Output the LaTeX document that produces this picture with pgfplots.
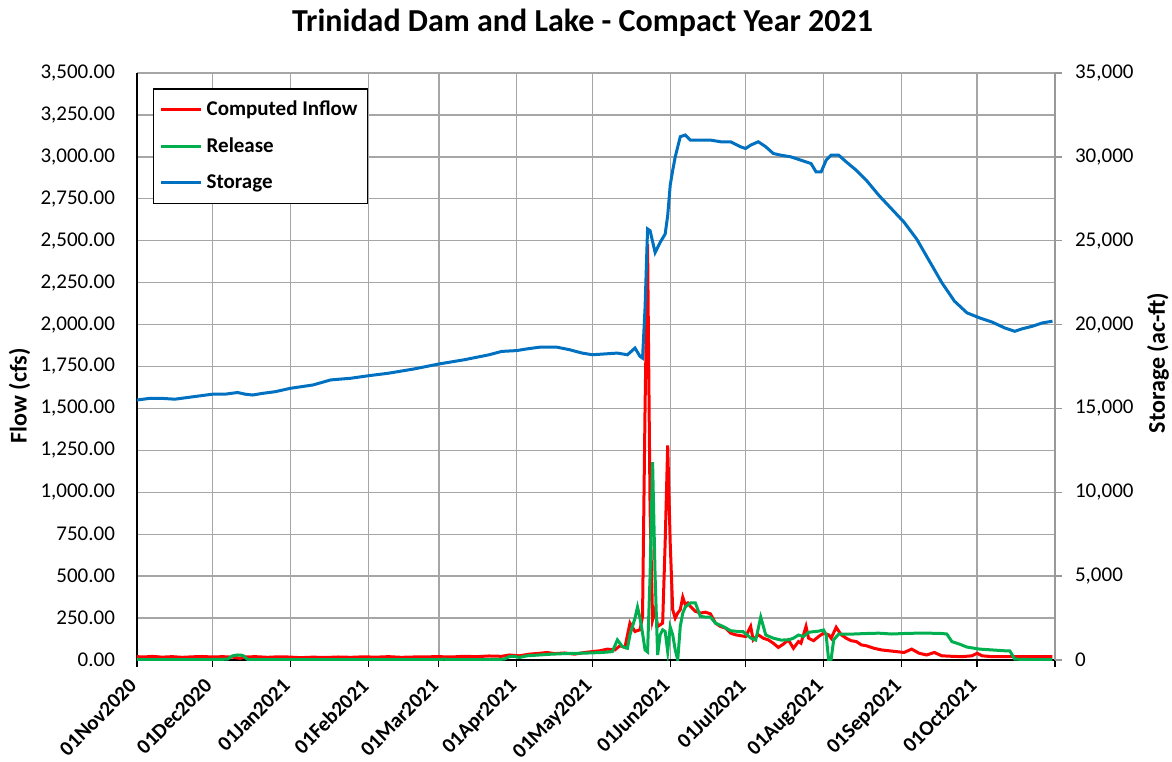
\documentclass[border=0pt]{standalone}
\usepackage{fontspec}
\setmainfont{Carlito}
\usepackage{pgfplots}
\usepackage{pgfplotstable}
\pgfplotsset{compat=1.18}
\definecolor{cin}{HTML}{FF0000}
\definecolor{crel}{HTML}{00B050}
\definecolor{csto}{HTML}{0070C0}
\definecolor{cgrid}{HTML}{A6A6A6}
\definecolor{caxis}{HTML}{999999}

% day = days since 01Nov2020
\pgfplotstableread{
day flow
0 20
3 18
6 22
10 17
14 20
18 16
22 19
26 21
30 18
34 20
38 17
41 10
43 18
47 20
52 16
56 19
60 18
65 14
70 17
75 15
80 18
85 16
90 19
95 17
100 20
105 16
110 18
115 19
120 20
125 18
130 22
135 20
140 24
145 22
148 30
152 25
156 35
160 40
163 45
166 38
170 42
174 35
178 45
181 50
184 55
187 65
190 60
192 85
194 75
196 220
198 170
200 180
201 260
202 1500
203 2480
204 900
205 240
206 300
207 200
208 210
209 220
210 700
211 1280
212 700
213 300
214 250
215 280
216 300
217 375
218 330
219 340
220 320
222 290
224 280
226 285
228 275
230 220
232 200
234 190
236 160
238 150
240 145
242 140
244 200
245 120
247 150
249 130
251 120
253 100
255 75
257 95
259 120
261 70
263 110
264 100
266 200
267 130
269 115
271 140
273 160
275 150
276 130
278 195
280 150
282 130
284 115
286 110
288 90
290 85
293 70
296 60
299 55
302 50
305 45
308 65
311 40
314 30
317 45
320 25
324 22
328 20
332 25
334 40
336 25
340 20
345 20
350 20
355 20
360 20
364 20
}\inflow

\pgfplotstableread{
day flow
0 3
10 3
20 2
30 3
36 5
38 25
40 30
42 28
44 3
60 2
90 2
120 2
122 5
124 2
140 2
146 5
148 20
150 22
152 15
155 25
160 30
165 35
170 38
175 40
180 42
185 45
189 50
191 120
193 80
195 70
196 150
198 250
199 316
200 250
201 160
202 60
203 48
204 500
205 1180
206 500
207 30
208 150
209 180
210 170
211 50
212 197
213 150
214 60
215 0
216 200
217 280
218 316
220 340
222 340
224 260
226 256
228 256
230 220
233 200
236 175
239 170
241 169
244 131
246 119
248 256
250 149
253 130
256 119
259 120
261 130
263 149
265 140
267 165
269 169
271 172
273 179
274 150
275 0
276 5
277 120
279 155
285 155
290 158
295 160
300 155
305 158
310 160
315 160
320 158
322 155
324 110
327 95
330 77
335 65
340 60
345 55
347 55
349 5
355 3
364 3
}\release

\pgfplotstableread{
day sto
0 15500
5 15600
10 15600
15 15550
20 15650
25 15750
30 15850
35 15850
40 15950
43 15850
46 15800
50 15900
55 16000
61 16200
70 16400
77 16700
85 16800
92 16950
100 17100
110 17350
120 17650
130 17900
140 18200
145 18400
151 18450
155 18550
160 18650
167 18650
172 18500
177 18300
181 18200
186 18250
191 18300
195 18200
198 18600
200 18100
201 18000
202 21000
203 25700
204 25600
206 24300
208 24900
210 25400
211 26500
212 28300
213 29200
214 30000
216 31200
218 31300
220 31000
224 31000
228 31000
232 30900
236 30900
240 30600
242 30500
244 30700
247 30900
250 30600
253 30200
256 30100
260 30000
264 29800
268 29600
270 29100
272 29100
274 29800
276 30100
279 30100
282 29700
286 29200
290 28600
295 27700
300 26900
305 26100
310 25100
315 23800
320 22500
325 21400
330 20700
335 20400
340 20150
345 19800
349 19600
352 19750
356 19900
360 20100
364 20200
}\storage

\begin{document}
\begin{tikzpicture}
\path[use as bounding box] (-68.5pt,-50.5pt) rectangle (517.5pt,330pt);
\pgfplotsset{
  common/.style={
    width=459pt, height=293.5pt, scale only axis,
    xmin=0, xmax=365,
    tick align=outside,
    major tick length=3.5pt,
  }
}
\begin{axis}[
  common,
  axis x line*=bottom,
  axis y line*=left,
  axis line style={black, line width=0.8pt, -},
  xtick style={black, line width=0.6pt},
  ytick style={draw=none},
  ymin=0, ymax=3500,
  ytick={0,250,...,3500},
  xtick={0,30,61,92,120,151,181,212,242,273,304,334,365},
  xticklabels={01Nov2020,01Dec2020,01Jan2021,01Feb2021,01Mar2021,01Apr2021,01May2021,01Jun2021,01Jul2021,01Aug2021,01Sep2021,01Oct2021,{}},
  xticklabel style={xshift=-4.5pt, yshift=-3.5pt, rotate=45, anchor=north east, font=\fontsize{10.5}{12}\selectfont\bfseries, inner sep=1pt},
  yticklabel style={font=\fontsize{10.5}{12}\selectfont, xshift=-4pt, /pgf/number format/.cd, fixed, fixed zerofill, precision=2, 1000 sep={,}, assume math mode=true},
  scaled y ticks=false,
  grid=major,
  major grid style={cgrid, line width=0.7pt},
  ylabel={Flow (cfs)},
  ylabel style={at={(axis description cs:-0.128,0.45)}, anchor=center, font=\fontsize{12}{14}\selectfont\bfseries},
  title={Trinidad Dam and Lake - Compact Year 2021},
  title style={at={(axis description cs:0.4853,1)}, anchor=center, yshift=19pt, font=\fontsize{16}{19}\selectfont\bfseries},
  legend style={at={(axis description cs:0.0174,0.974)}, anchor=north west, draw=black, line width=0.7pt, font=\fontsize{10.5}{12}\selectfont\bfseries, row sep=5.5pt, inner xsep=3pt, inner ysep=4pt},
  legend cell align=left,
  legend image code/.code={\draw[#1] (0pt,0pt) -- (20pt,0pt);},
]
\addplot[cin, line width=1.5pt] table[x=day, y=flow] {\inflow};
\addlegendentry{Computed Inflow}
\addplot[crel, line width=1.5pt] table[x=day, y=flow] {\release};
\addlegendentry{Release}
\addlegendimage{csto, line width=1.5pt}
\addlegendentry{Storage}
\end{axis}
\begin{axis}[
  common,
  axis y line*=right,
  axis x line=none,
  axis line style={caxis, line width=0.8pt, -},
  ytick style={caxis, line width=0.7pt},
  ymin=0, ymax=35000,
  ytick={0,5000,...,35000},
  yticklabel style={font=\fontsize{10.5}{12}\selectfont, xshift=3pt, /pgf/number format/.cd, fixed, 1000 sep={,}, assume math mode=true},
  scaled y ticks=false,
  ylabel={Storage (ac-ft)},
  ylabel style={at={(axis description cs:1.1122,0.506)}, anchor=center, rotate=0, font=\fontsize{12}{14}\selectfont\bfseries},
]
\addplot[csto, line width=1.5pt] table[x=day, y=sto] {\storage};
\end{axis}
\end{tikzpicture}
\end{document}
